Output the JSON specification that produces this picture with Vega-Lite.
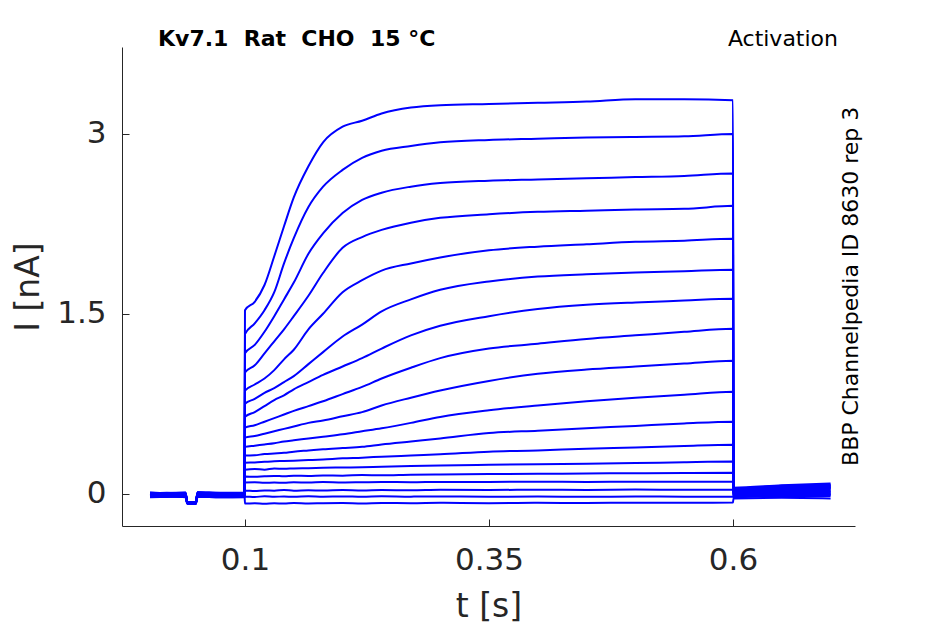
{
  "$schema": "https://vega.github.io/schema/vega-lite/v6.json",
  "width": 733,
  "height": 479,
  "autosize": {"type": "none"},
  "padding": {"left": 122, "top": 47, "right": 90, "bottom": 98},
  "background": "white",
  "config": {
    "view": {"stroke": null},
    "font": "DejaVu Sans",
    "axis": {
      "grid": false,
      "domainColor": "#262626",
      "tickColor": "#262626",
      "labelColor": "#262626",
      "titleColor": "#262626",
      "titleFontWeight": "normal",
      "labelFont": "DejaVu Sans",
      "titleFont": "DejaVu Sans",
      "labelFontSize": 31,
      "titleFontSize": 33,
      "tickSize": -7,
      "domainWidth": 1,
      "tickWidth": 1
    }
  },
  "datasets": {
    "traces": [
      {"t": 0.0027, "s01": 0.005, "s02": -0.01, "s03": 0.0, "s04": -0.02, "s05": 0.01, "s06": -0.005, "s07": -0.025, "s08": 0.002, "s09": -0.015, "s10": 0.006, "s11": -0.03, "s12": -0.012, "s13": 0.0, "s14": -0.02, "s15": 0.008, "s16": -0.012, "s17": -0.028, "s18": -0.004},
      {"t": 0.02, "s01": 0.0, "s02": -0.005, "s03": -0.01, "s04": -0.015, "s05": 0.005, "s06": -0.02, "s07": -0.02, "s08": 0.008, "s09": -0.01, "s10": 0.0, "s11": -0.025, "s12": -0.005, "s13": 0.006, "s14": -0.028, "s15": 0.002, "s16": -0.018, "s17": -0.022, "s18": 0.004},
      {"t": 0.039, "s01": 0.006, "s02": -0.012, "s03": 0.002, "s04": -0.018, "s05": 0.008, "s06": -0.006, "s07": -0.026, "s08": 0.0, "s09": -0.014, "s10": 0.004, "s11": -0.028, "s12": -0.01, "s13": -0.002, "s14": -0.022, "s15": 0.01, "s16": -0.014, "s17": -0.03, "s18": -0.006},
      {"t": 0.041, "s01": -0.07, "s02": -0.075, "s03": -0.072, "s04": -0.08, "s05": -0.068, "s06": -0.074, "s07": -0.082, "s08": -0.07, "s09": -0.078, "s10": -0.069, "s11": -0.085, "s12": -0.076, "s13": -0.072, "s14": -0.08, "s15": -0.068, "s16": -0.077, "s17": -0.084, "s18": -0.073},
      {"t": 0.0495, "s01": -0.072, "s02": -0.078, "s03": -0.07, "s04": -0.082, "s05": -0.07, "s06": -0.076, "s07": -0.085, "s08": -0.072, "s09": -0.08, "s10": -0.07, "s11": -0.086, "s12": -0.078, "s13": -0.074, "s14": -0.082, "s15": -0.07, "s16": -0.079, "s17": -0.086, "s18": -0.075},
      {"t": 0.0515, "s01": 0.008, "s02": -0.008, "s03": 0.004, "s04": -0.016, "s05": 0.012, "s06": -0.002, "s07": -0.022, "s08": 0.004, "s09": -0.012, "s10": 0.008, "s11": -0.026, "s12": -0.008, "s13": 0.002, "s14": -0.018, "s15": 0.012, "s16": -0.01, "s17": -0.026, "s18": -0.002},
      {"t": 0.075, "s01": 0.004, "s02": -0.012, "s03": -0.004, "s04": -0.022, "s05": 0.008, "s06": -0.01, "s07": -0.024, "s08": 0.0, "s09": -0.018, "s10": 0.004, "s11": -0.03, "s12": -0.014, "s13": -0.002, "s14": -0.024, "s15": 0.006, "s16": -0.016, "s17": -0.03, "s18": -0.008},
      {"t": 0.0995, "s01": 0.005, "s02": -0.01, "s03": 0.0, "s04": -0.02, "s05": 0.01, "s06": -0.005, "s07": -0.025, "s08": 0.002, "s09": -0.015, "s10": 0.006, "s11": -0.03, "s12": -0.012, "s13": 0.0, "s14": -0.02, "s15": 0.008, "s16": -0.012, "s17": -0.028, "s18": -0.004},
      {"t": 0.1, "s01": 1.53, "s02": 1.33, "s03": 1.17, "s04": 1.01, "s05": 0.86, "s06": 0.75, "s07": 0.64, "s08": 0.55, "s09": 0.467, "s10": 0.39, "s11": 0.317, "s12": 0.258, "s13": 0.2, "s14": 0.142, "s15": 0.092, "s16": 0.025, "s17": -0.025, "s18": -0.083},
      {"t": 0.11, "s01": 1.6, "s02": 1.42, "s03": 1.24, "s04": 1.07, "s05": 0.91, "s06": 0.79, "s07": 0.68, "s08": 0.57, "s09": 0.48, "s10": 0.4, "s11": 0.32, "s12": 0.26, "s13": 0.205, "s14": 0.14, "s15": 0.095, "s16": 0.022, "s17": -0.028, "s18": -0.08},
      {"t": 0.12, "s01": 1.74, "s02": 1.53, "s03": 1.35, "s04": 1.17, "s05": 0.96, "s06": 0.84, "s07": 0.73, "s08": 0.6, "s09": 0.5, "s10": 0.41, "s11": 0.33, "s12": 0.265, "s13": 0.2, "s14": 0.145, "s15": 0.09, "s16": 0.027, "s17": -0.022, "s18": -0.085},
      {"t": 0.13, "s01": 1.98, "s02": 1.68, "s03": 1.48, "s04": 1.27, "s05": 1.03, "s06": 0.88, "s07": 0.78, "s08": 0.63, "s09": 0.52, "s10": 0.42, "s11": 0.335, "s12": 0.27, "s13": 0.21, "s14": 0.148, "s15": 0.093, "s16": 0.025, "s17": -0.026, "s18": -0.08},
      {"t": 0.14, "s01": 2.23, "s02": 1.92, "s03": 1.62, "s04": 1.37, "s05": 1.12, "s06": 0.93, "s07": 0.82, "s08": 0.66, "s09": 0.54, "s10": 0.435, "s11": 0.34, "s12": 0.272, "s13": 0.207, "s14": 0.145, "s15": 0.09, "s16": 0.03, "s17": -0.024, "s18": -0.083},
      {"t": 0.15, "s01": 2.47, "s02": 2.13, "s03": 1.76, "s04": 1.48, "s05": 1.2, "s06": 0.98, "s07": 0.87, "s08": 0.69, "s09": 0.56, "s10": 0.445, "s11": 0.35, "s12": 0.275, "s13": 0.21, "s14": 0.15, "s15": 0.095, "s16": 0.025, "s17": -0.027, "s18": -0.078},
      {"t": 0.165, "s01": 2.73, "s02": 2.39, "s03": 2.0, "s04": 1.65, "s05": 1.37, "s06": 1.08, "s07": 0.93, "s08": 0.73, "s09": 0.59, "s10": 0.46, "s11": 0.36, "s12": 0.28, "s13": 0.212, "s14": 0.148, "s15": 0.092, "s16": 0.028, "s17": -0.022, "s18": -0.082},
      {"t": 0.18, "s01": 2.93, "s02": 2.56, "s03": 2.17, "s04": 1.84, "s05": 1.5, "s06": 1.18, "s07": 0.99, "s08": 0.77, "s09": 0.61, "s10": 0.475, "s11": 0.37, "s12": 0.285, "s13": 0.215, "s14": 0.152, "s15": 0.096, "s16": 0.026, "s17": -0.025, "s18": -0.08},
      {"t": 0.2, "s01": 3.06, "s02": 2.7, "s03": 2.34, "s04": 2.05, "s05": 1.68, "s06": 1.31, "s07": 1.06, "s08": 0.83, "s09": 0.645, "s10": 0.495, "s11": 0.38, "s12": 0.295, "s13": 0.218, "s14": 0.15, "s15": 0.093, "s16": 0.03, "s17": -0.023, "s18": -0.079},
      {"t": 0.22, "s01": 3.11, "s02": 2.8, "s03": 2.45, "s04": 2.14, "s05": 1.78, "s06": 1.41, "s07": 1.13, "s08": 0.89, "s09": 0.68, "s10": 0.52, "s11": 0.39, "s12": 0.3, "s13": 0.22, "s14": 0.155, "s15": 0.095, "s16": 0.027, "s17": -0.026, "s18": -0.082},
      {"t": 0.24, "s01": 3.17, "s02": 2.86, "s03": 2.51, "s04": 2.2, "s05": 1.86, "s06": 1.52, "s07": 1.21, "s08": 0.96, "s09": 0.735, "s10": 0.545, "s11": 0.41, "s12": 0.308, "s13": 0.225, "s14": 0.153, "s15": 0.097, "s16": 0.03, "s17": -0.022, "s18": -0.078},
      {"t": 0.27, "s01": 3.22, "s02": 2.9, "s03": 2.56, "s04": 2.26, "s05": 1.92, "s06": 1.62, "s07": 1.32, "s08": 1.05, "s09": 0.8, "s10": 0.59, "s11": 0.435, "s12": 0.318, "s13": 0.23, "s14": 0.158, "s15": 0.095, "s16": 0.028, "s17": -0.025, "s18": -0.08},
      {"t": 0.3, "s01": 3.24, "s02": 2.93, "s03": 2.59, "s04": 2.3, "s05": 1.97, "s06": 1.7, "s07": 1.4, "s08": 1.13, "s09": 0.86, "s10": 0.64, "s11": 0.46, "s12": 0.328, "s13": 0.235, "s14": 0.16, "s15": 0.098, "s16": 0.032, "s17": -0.023, "s18": -0.077},
      {"t": 0.35, "s01": 3.25, "s02": 2.95, "s03": 2.61, "s04": 2.33, "s05": 2.03, "s06": 1.77, "s07": 1.48, "s08": 1.21, "s09": 0.94, "s10": 0.695, "s11": 0.505, "s12": 0.35, "s13": 0.24, "s14": 0.163, "s15": 0.097, "s16": 0.03, "s17": -0.026, "s18": -0.08},
      {"t": 0.4, "s01": 3.26, "s02": 2.96, "s03": 2.62, "s04": 2.35, "s05": 2.06, "s06": 1.81, "s07": 1.54, "s08": 1.25, "s09": 1.0, "s10": 0.735, "s11": 0.525, "s12": 0.36, "s13": 0.245, "s14": 0.165, "s15": 0.1, "s16": 0.033, "s17": -0.024, "s18": -0.077},
      {"t": 0.45, "s01": 3.27, "s02": 2.97, "s03": 2.63, "s04": 2.36, "s05": 2.08, "s06": 1.83, "s07": 1.575, "s08": 1.29, "s09": 1.035, "s10": 0.77, "s11": 0.545, "s12": 0.375, "s13": 0.25, "s14": 0.168, "s15": 0.098, "s16": 0.031, "s17": -0.027, "s18": -0.078},
      {"t": 0.5, "s01": 3.29, "s02": 2.975, "s03": 2.64, "s04": 2.37, "s05": 2.1, "s06": 1.845, "s07": 1.595, "s08": 1.32, "s09": 1.06, "s10": 0.8, "s11": 0.565, "s12": 0.385, "s13": 0.255, "s14": 0.17, "s15": 0.1, "s16": 0.034, "s17": -0.024, "s18": -0.076},
      {"t": 0.55, "s01": 3.29, "s02": 2.98, "s03": 2.65, "s04": 2.375, "s05": 2.11, "s06": 1.855, "s07": 1.61, "s08": 1.35, "s09": 1.085, "s10": 0.825, "s11": 0.585, "s12": 0.398, "s13": 0.262, "s14": 0.172, "s15": 0.1, "s16": 0.032, "s17": -0.025, "s18": -0.077},
      {"t": 0.6, "s01": 3.28, "s02": 3.0, "s03": 2.67, "s04": 2.4, "s05": 2.125, "s06": 1.867, "s07": 1.625, "s08": 1.375, "s09": 1.108, "s10": 0.85, "s11": 0.6, "s12": 0.408, "s13": 0.267, "s14": 0.175, "s15": 0.1, "s16": 0.033, "s17": -0.025, "s18": -0.075},
      {"t": 0.6005, "s01": 0.05, "s02": 0.045, "s03": 0.04, "s04": 0.035, "s05": 0.03, "s06": 0.025, "s07": 0.02, "s08": 0.015, "s09": 0.01, "s10": 0.005, "s11": 0.0, "s12": -0.005, "s13": -0.01, "s14": -0.015, "s15": -0.02, "s16": -0.025, "s17": -0.03, "s18": -0.04},
      {"t": 0.65, "s01": 0.07, "s02": 0.065, "s03": 0.06, "s04": 0.055, "s05": 0.05, "s06": 0.045, "s07": 0.04, "s08": 0.035, "s09": 0.03, "s10": 0.02, "s11": 0.015, "s12": 0.01, "s13": 0.005, "s14": 0.0, "s15": -0.01, "s16": -0.015, "s17": -0.02, "s18": -0.035},
      {"t": 0.7, "s01": 0.085, "s02": 0.075, "s03": 0.07, "s04": 0.065, "s05": 0.06, "s06": 0.055, "s07": 0.05, "s08": 0.045, "s09": 0.04, "s10": 0.03, "s11": 0.02, "s12": 0.015, "s13": 0.01, "s14": 0.0, "s15": -0.005, "s16": -0.01, "s17": -0.02, "s18": -0.04}
    ],
    "notes": [
      {"label": "Kv7.1\u00a0\u00a0Rat\u00a0\u00a0CHO\u00a0\u00a015\u00a0°C", "kind": "head"},
      {"label": "Activation", "kind": "act"},
      {"label": "BBP Channelpedia ID 8630 rep 3", "kind": "side"}
    ]
  },
  "layer": [
    {
      "data": {"name": "traces"},
      "transform": [
        {"fold": ["s01", "s02", "s03", "s04", "s05", "s06", "s07", "s08", "s09", "s10", "s11", "s12", "s13", "s14", "s15", "s16", "s17", "s18"], "as": ["sweep", "I"]}
      ],
      "mark": {"type": "line", "color": "#0000ff", "strokeWidth": 2, "interpolate": "monotone", "clip": false},
      "encoding": {
        "x": {
          "field": "t", "type": "quantitative",
          "scale": {"domain": [-0.026, 0.725], "nice": false, "zero": false},
          "axis": {"values": [0.1, 0.35, 0.6], "format": "~g", "title": "t [s]", "labelPadding": 26, "titlePadding": 15}
        },
        "y": {
          "field": "I", "type": "quantitative",
          "scale": {"domain": [-0.27, 3.725], "nice": false, "zero": false},
          "axis": {"values": [0, 1.5, 3], "format": "~g", "title": "I [nA]", "labelPadding": 23, "titlePadding": 11}
        },
        "detail": {"field": "sweep", "type": "nominal"}
      }
    },
    {
      "data": {"name": "notes"},
      "transform": [{"filter": "datum.kind === 'head'"}],
      "mark": {"type": "text", "font": "DejaVu Sans", "fontWeight": "bold", "fontSize": 22, "align": "left", "baseline": "alphabetic", "color": "#000000"},
      "encoding": {
        "x": {"datum": 0.0109, "type": "quantitative"},
        "y": {"datum": 3.73, "type": "quantitative"},
        "text": {"field": "label"}
      }
    },
    {
      "data": {"name": "notes"},
      "transform": [{"filter": "datum.kind === 'act'"}],
      "mark": {"type": "text", "font": "DejaVu Sans", "fontSize": 22, "align": "right", "baseline": "alphabetic", "color": "#000000"},
      "encoding": {
        "x": {"datum": 0.7076, "type": "quantitative"},
        "y": {"datum": 3.733, "type": "quantitative"},
        "text": {"field": "label"}
      }
    },
    {
      "data": {"name": "notes"},
      "transform": [{"filter": "datum.kind === 'side'"}],
      "mark": {"type": "text", "font": "DejaVu Sans", "fontSize": 22, "align": "center", "baseline": "middle", "angle": 270, "color": "#000000"},
      "encoding": {
        "x": {"datum": 0.7205, "type": "quantitative"},
        "y": {"datum": 1.729, "type": "quantitative"},
        "text": {"field": "label"}
      }
    }
  ]
}
